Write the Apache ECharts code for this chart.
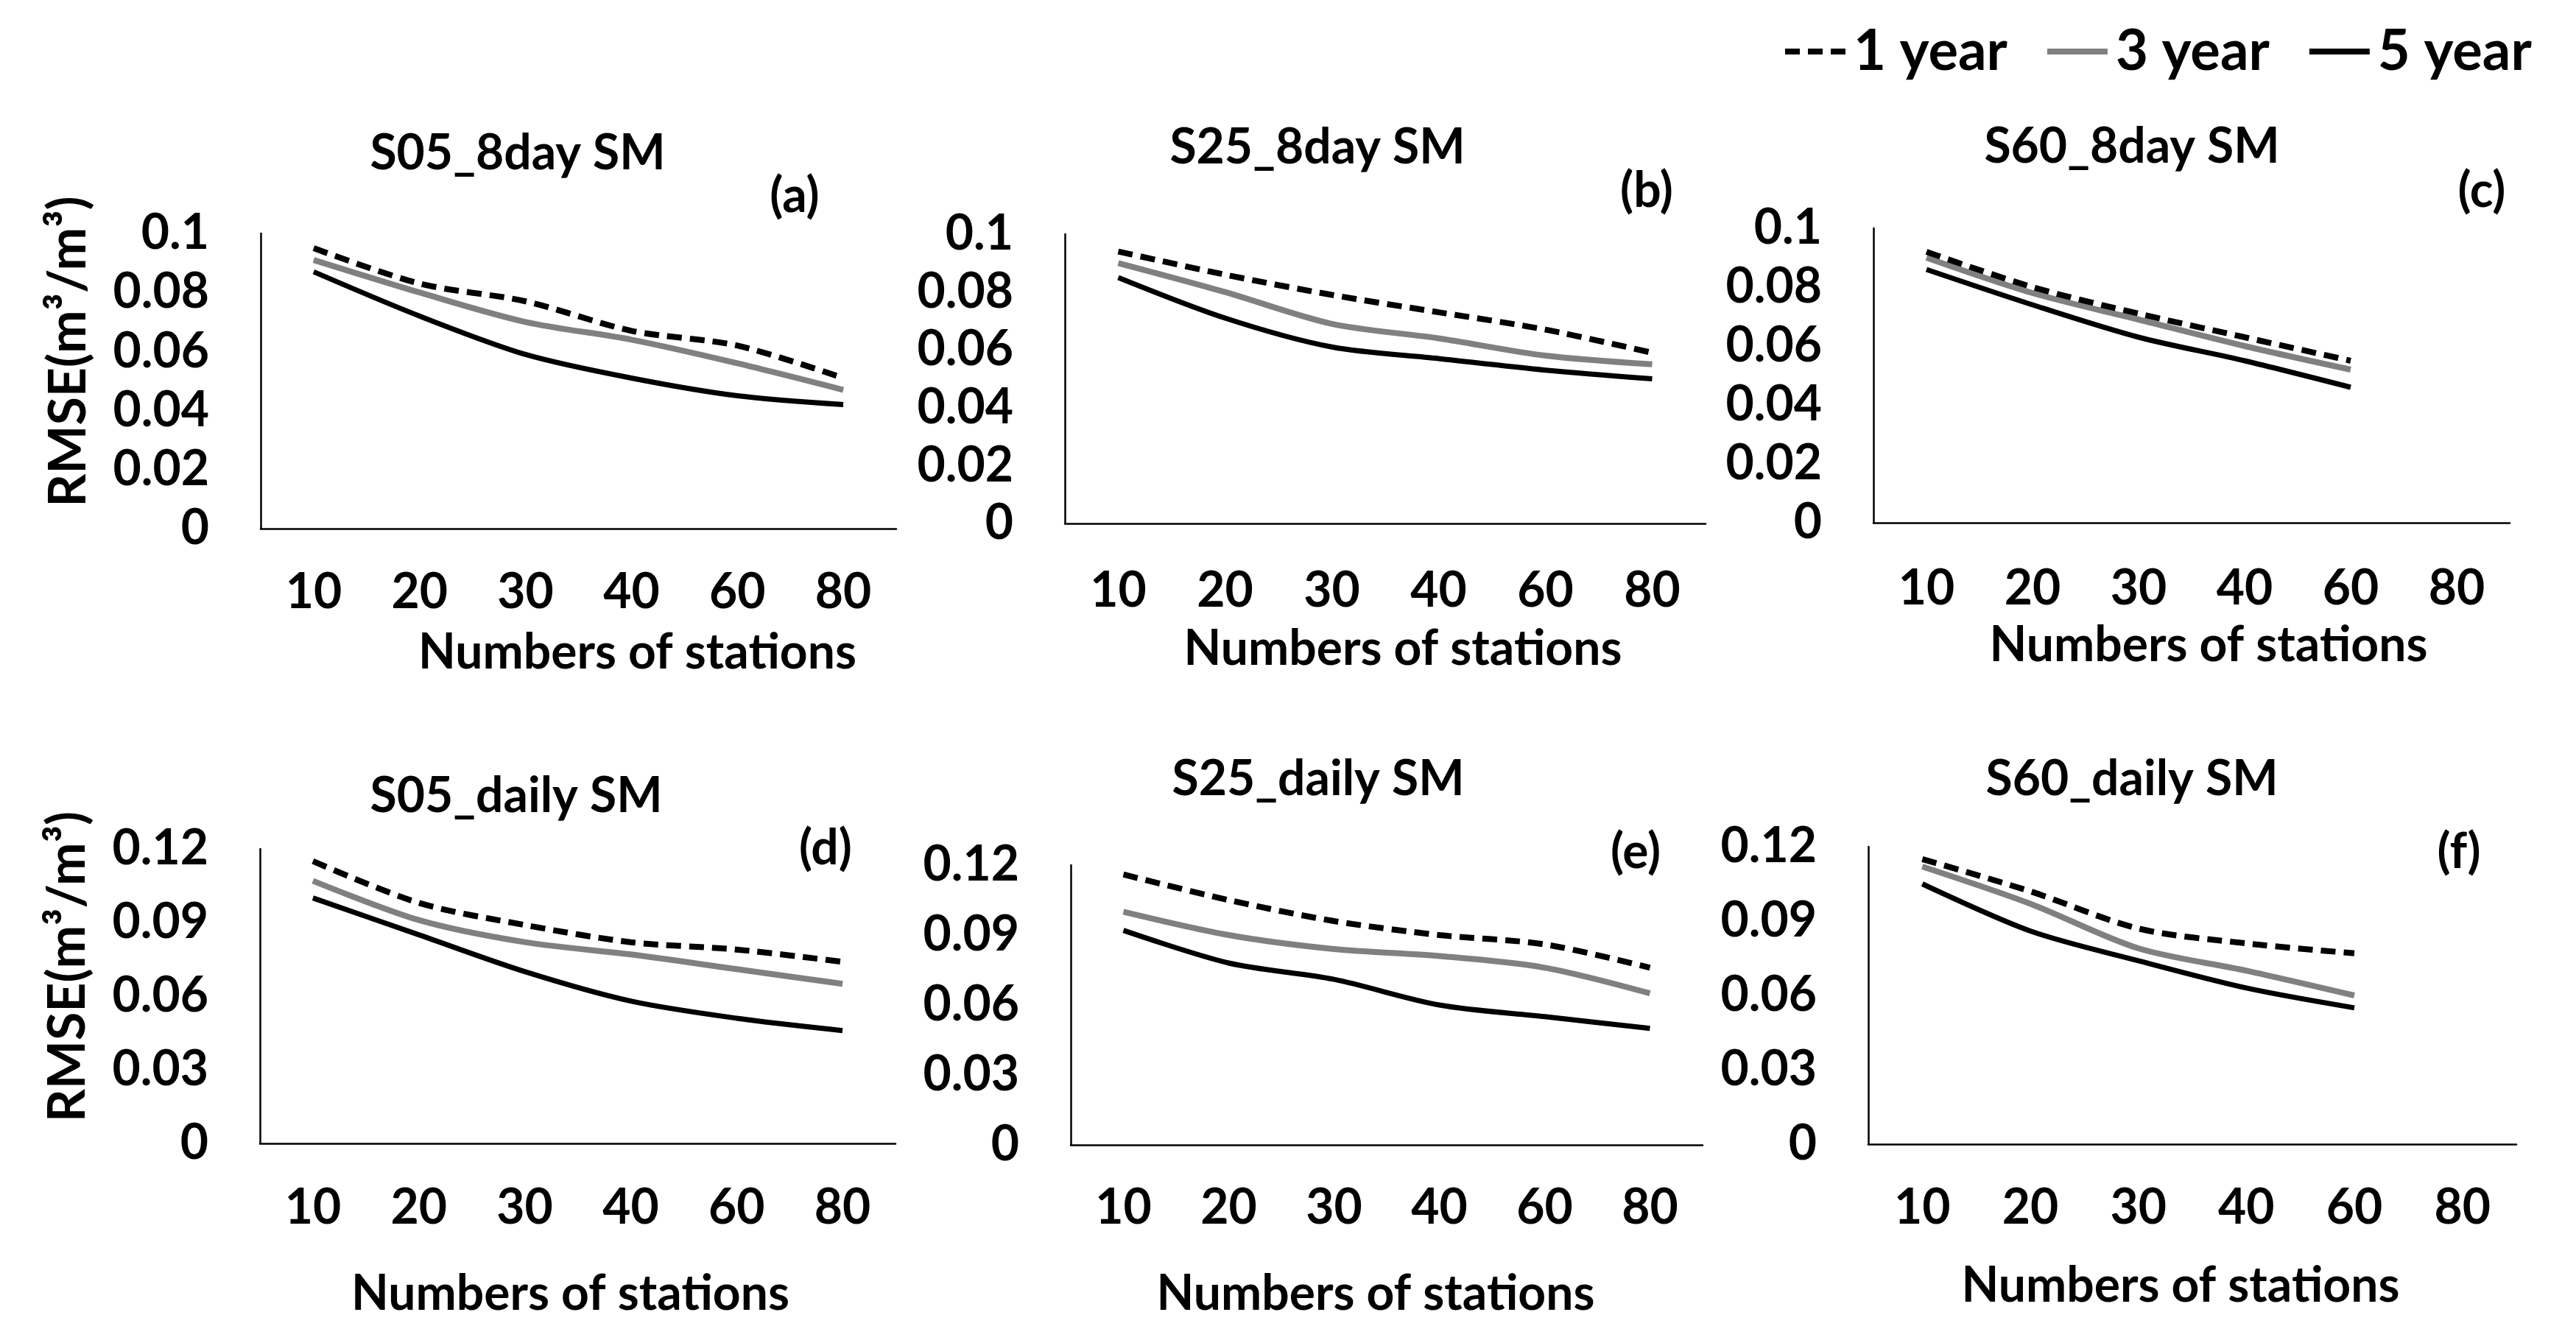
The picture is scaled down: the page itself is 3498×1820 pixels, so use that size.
<!DOCTYPE html>
<html><head><meta charset="utf-8">
<script src="https://cdn.jsdelivr.net/npm/echarts@6/dist/echarts.min.js"></script>
<style>html,body{margin:0;padding:0;background:#fff}#c{width:3498px;height:1820px}</style>
</head><body><div id="c"></div>
<script>
// ---- data ----
const categories = ['10', '20', '30', '40', '60', '80'];
const seriesNames = ['1 year', '3 year', '5 year'];
const panelTitles = ['S05_8day SM', 'S25_8day SM', 'S60_8day SM', 'S05_daily SM', 'S25_daily SM', 'S60_daily SM'];
const panelTags = ['(a)', '(b)', '(c)', '(d)', '(e)', '(f)'];
const xAxisName = 'Numbers of stations';
const yAxisName = 'RMSE(m³/m³)';
const yMaxTop = 0.1, yIntTop = 0.02;
const yMaxBottom = 0.12, yIntBottom = 0.03;

const a1 = [0.095, 0.083, 0.077, 0.067, 0.062, 0.051];
const a3 = [0.091, 0.080, 0.070, 0.064, 0.056, 0.047];
const a5 = [0.087, 0.072, 0.059, 0.051, 0.045, 0.042];

const b1 = [0.094, 0.086, 0.079, 0.073, 0.067, 0.059];
const b3 = [0.090, 0.080, 0.069, 0.064, 0.058, 0.055];
const b5 = [0.085, 0.071, 0.061, 0.057, 0.053, 0.050];

const c1 = [0.092, 0.080, 0.071, 0.063, 0.055];
const c3 = [0.090, 0.078, 0.069, 0.060, 0.052];
const c5 = [0.086, 0.074, 0.063, 0.055, 0.046];

const d1 = [0.115, 0.098, 0.089, 0.082, 0.079, 0.074];
const d3 = [0.107, 0.091, 0.082, 0.077, 0.071, 0.065];
const d5 = [0.100, 0.085, 0.070, 0.058, 0.051, 0.046];

const e1 = [0.116, 0.105, 0.096, 0.090, 0.086, 0.076];
const e3 = [0.100, 0.090, 0.084, 0.081, 0.076, 0.065];
const e5 = [0.092, 0.078, 0.071, 0.060, 0.055, 0.050];

const f1 = [0.115, 0.102, 0.087, 0.081, 0.077];
const f3 = [0.112, 0.097, 0.079, 0.070, 0.060];
const f5 = [0.105, 0.086, 0.074, 0.063, 0.055];

const panelData = [[a1, a3, a5], [b1, b3, b5], [c1, c3, c5], [d1, d3, d5], [e1, e3, e5], [f1, f3, f5]];

// ---- layout & style ----
const FONT = 'Lato';
const FS = 66;
const grids = [
  {left: 354, top: 317, width: 863, height: 401},
  {left: 1446, top: 318, width: 870, height: 393},
  {left: 2544, top: 310, width: 864, height: 400},
  {left: 353, top: 1153, width: 863, height: 400},
  {left: 1454, top: 1175, width: 858, height: 380},
  {left: 2537, top: 1150, width: 880, height: 404}
];
const titlePos = [[703, 209], [1789, 201], [2895, 200], [701, 1082], [1790, 1059], [2895, 1059]];
const tagPos = [[1079, 267], [2236, 260], [3370, 260], [1121, 1153], [2221, 1158], [3339, 1158]];
const nameShift = [80, 24, 23, -10, -15, -16];
const nameGaps = [136, 138, 134, 172, 170, 160];
const labelMargins = [54, 59, 57, 55, 53, 54];
const yLabelDrop = [22, 22, 22, 16, 16, 16];
const lineStyles = [
  {color: '#000000', width: 8, type: [20, 11], cap: 'butt'},
  {color: '#808080', width: 8, type: 'solid'},
  {color: '#000000', width: 7, type: 'solid'}
];

const txt = {fontFamily: FONT, fontWeight: 'bold', color: '#000', fontSize: FS};

const title = [];
panelTitles.forEach((t, i) => {
  title.push({text: t, left: titlePos[i][0], top: titlePos[i][1], textAlign: 'center', textVerticalAlign: 'middle', padding: 0, textStyle: Object.assign({}, txt)});
  title.push({text: panelTags[i], left: tagPos[i][0], top: tagPos[i][1], textAlign: 'center', textVerticalAlign: 'middle', padding: 0, textStyle: Object.assign({}, txt)});
});

const xAxis = [], yAxis = [], series = [];
grids.forEach((g, i) => {
  const top = i < 3;
  const sh = nameShift[i];
  xAxis.push({
    type: 'category', gridIndex: i, data: categories, boundaryGap: true,
    axisLine: {show: true, lineStyle: {color: '#000', width: 2.5}},
    axisTick: {show: false},
    axisLabel: Object.assign({margin: labelMargins[i], interval: 0}, txt),
    name: xAxisName, nameLocation: 'middle', nameGap: nameGaps[i],
    nameTextStyle: Object.assign({padding: sh >= 0 ? [0, 0, 0, 2 * sh] : [0, -2 * sh, 0, 0]}, txt)
  });
  const ya = {
    type: 'value', gridIndex: i, min: 0,
    max: top ? yMaxTop : yMaxBottom, interval: top ? yIntTop : yIntBottom,
    axisLine: {show: true, lineStyle: {color: '#000', width: 2.5}},
    axisTick: {show: false},
    splitLine: {show: false},
    axisLabel: Object.assign({margin: 70, padding: [yLabelDrop[i], 0, 0, 0]}, txt)
  };
  if (i === 0 || i === 3) {
    ya.name = yAxisName;
    ya.nameLocation = 'middle';
    ya.nameRotate = 90;
    ya.nameGap = 226;
    ya.nameTextStyle = Object.assign({}, txt, {fontSize: 70, padding: [0, 0, 0, 80]});
  }
  yAxis.push(ya);
  panelData[i].forEach((arr, k) => {
    series.push({
      type: 'line', name: seriesNames[k], xAxisIndex: i, yAxisIndex: i,
      data: arr, symbol: 'none', smooth: 0.3, lineStyle: lineStyles[k],
      itemStyle: {color: lineStyles[k].color},
      z: 3 - k, silent: true, animation: false
    });
  });
});

const chart = echarts.init(document.getElementById('c'), null, {renderer: 'canvas'});
chart.setOption({
  backgroundColor: '#fff',
  animation: false,
  title: title,
  legend: {
    data: seriesNames, left: 2420, top: 32, padding: 0,
    itemWidth: 82, itemHeight: 20, itemGap: 50,
    itemStyle: {opacity: 0},
    lineStyle: {width: 8},
    textStyle: {fontFamily: FONT, fontWeight: 'bold', color: '#000', fontSize: 76, padding: [0, 0, 0, 6]}
  },
  grid: grids,
  xAxis: xAxis,
  yAxis: yAxis,
  series: series
});
</script></body></html>
